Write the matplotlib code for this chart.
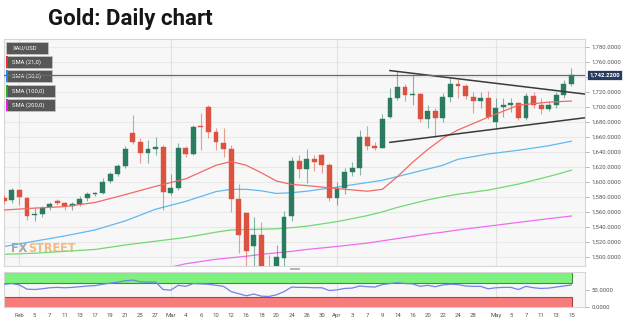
import matplotlib.pyplot as plt
from matplotlib.patches import Rectangle
import numpy as np
import pandas as pd

plt.rcParams['font.family'] = ['Roboto', 'DejaVu Sans']

W, H = 628, 327

# trading days shown (Good Friday has no bar)
dates = pd.bdate_range('2020-01-30', '2020-05-15')
dates = dates[dates != pd.Timestamp('2020-04-10')]

opens = [1579, 1576, 1589, 1579, 1555.5, 1557, 1566, 1574.5, 1571.5, 1568,
         1570, 1578, 1584, 1585, 1601, 1610.5, 1621.5, 1665, 1653, 1639,
         1643.5, 1646, 1585, 1592, 1645.5, 1636.5, 1674, 1699, 1666, 1652,
         1643, 1577, 1558, 1514, 1529.5, 1477, 1471, 1499, 1554, 1628,
         1617, 1630, 1635.5, 1622.5, 1578, 1592, 1613.5, 1618, 1659, 1648,
         1645.5, 1686.7, 1712, 1726.5, 1715.5, 1716.5, 1683.6, 1694.6, 1685.3, 1713,
         1729.7, 1727.5, 1713, 1707.5, 1712, 1680, 1700, 1702.2, 1704.5, 1684.5,
         1714.6, 1702.2, 1697, 1702.2, 1715.5, 1730]
highs = [1582, 1591.5, 1591, 1580, 1567, 1568, 1573, 1577, 1573, 1573,
         1581, 1586, 1586.5, 1605, 1613, 1624, 1647.5, 1689, 1658, 1656,
         1659, 1649, 1610.5, 1652, 1648, 1675.5, 1691, 1702, 1671, 1671,
         1649, 1597, 1560, 1553, 1547, 1503, 1516, 1561, 1633.5, 1636,
         1643, 1635.5, 1637, 1625, 1600, 1619, 1626, 1669, 1674, 1653.5,
         1690, 1724.5, 1747.5, 1729.7, 1742, 1718, 1702, 1697.8, 1718, 1737.7,
         1736.4, 1730, 1719, 1719, 1720.8, 1712, 1712, 1711, 1705.8, 1718,
         1719, 1711, 1707.5, 1719, 1735.4, 1751]
lows = [1571, 1572, 1569, 1549, 1548, 1553, 1562, 1569, 1563, 1563,
        1568, 1574, 1581, 1583.5, 1599, 1608, 1619, 1650, 1625.5, 1625,
        1636, 1562.5, 1582.5, 1589, 1633, 1635.5, 1642, 1658, 1642, 1633.5,
        1560, 1505, 1451, 1470, 1450, 1460, 1466, 1482, 1548, 1605,
        1598, 1614, 1612, 1574.5, 1569, 1583.5, 1608, 1609, 1642, 1642,
        1644.5, 1684.5, 1709, 1707.5, 1702, 1680, 1671, 1660, 1680, 1706.6,
        1711, 1709.8, 1691.2, 1697.8, 1683.6, 1670.3, 1686.7, 1693.3, 1682, 1682,
        1698.6, 1689.8, 1694.2, 1698.6, 1711, 1728]
closes = [1575, 1589, 1579.5, 1555, 1557, 1565.5, 1570.5, 1571.5, 1568, 1570.5,
          1577, 1584, 1585.5, 1600, 1610.5, 1621.5, 1643.5, 1653, 1639, 1643.5,
          1646, 1586, 1591.5, 1645.5, 1636.5, 1673.5, 1673, 1666, 1652.5, 1643.5,
          1577, 1529.5, 1508, 1529.5, 1477, 1471, 1499.7, 1553, 1628, 1617,
          1630, 1627, 1623, 1578, 1592, 1613.5, 1618, 1659, 1648, 1645.5,
          1683.5, 1712, 1726.5, 1715.5, 1717, 1683.6, 1694.6, 1685.3, 1713.2, 1729.7,
          1727.5, 1714, 1707.5, 1712, 1685.8, 1698.6, 1702, 1704.5, 1684.5, 1714.6,
          1702.2, 1697, 1702.2, 1715.5, 1730, 1742.22]

# moving averages, sampled at these bar numbers
sma_at = [0, 4, 8, 12, 16, 20, 24, 28, 30, 32, 34, 36, 38, 40, 44, 48, 50, 52,
          54, 56, 58, 60, 64, 68, 72, 75]
sma21 = [1562.5, 1565, 1567, 1572.5, 1583, 1594, 1604, 1622, 1627, 1622, 1612,
         1601, 1596.5, 1595, 1591, 1587.5, 1590, 1607, 1626, 1643, 1658, 1669,
         1686, 1702, 1706, 1707.5]
sma50 = [1514, 1521, 1528, 1536, 1548, 1563.5, 1574, 1587, 1590, 1590, 1588,
         1584.5, 1585.5, 1587.5, 1593, 1599, 1602, 1607, 1612, 1617, 1622, 1630,
         1637, 1642, 1648, 1654]
sma100 = [1503.5, 1505, 1507.5, 1510, 1516, 1521, 1526, 1533, 1536, 1536.5, 1537,
          1537.5, 1539, 1541, 1547, 1555, 1560, 1566, 1571, 1576, 1580, 1583.5,
          1589, 1597, 1607, 1615.5]
sma200 = [np.nan] * 5 + [1482, 1491, 1497, 1499, 1501, 1503.5, 1505.5, 1507.5,
                         1510, 1514, 1518.5, 1521.5, 1524.5, 1527.5, 1530.5, 1533,
                         1536, 1541, 1546, 1551, 1554.5]

rsi = [65, 67, 63, 51, 50, 52, 55, 56, 55, 56,
       58, 60, 61, 65, 68, 71, 75, 77, 72, 71,
       71.5, 50, 48, 62, 59, 67, 66, 65, 62, 59,
       44, 38, 32, 37, 31, 30, 35, 44, 57, 56,
       56, 55, 55, 47, 49, 53, 54, 60, 58, 57,
       64, 67, 69.5, 67, 66, 59, 62, 58, 63, 65,
       64, 60, 59, 59, 52, 55, 56, 56, 50, 59,
       55, 53, 54, 57, 60, 63]

# hand-drawn triangle: (bar, price) at each end
upper_trend = ([51, 77], [1748, 1716.5])
lower_trend = ([51, 77], [1652.5, 1685.5])
last_price = 1742.22

tick_days = ['2020-02-03', '2020-02-05', '2020-02-07', '2020-02-11', '2020-02-13',
             '2020-02-17', '2020-02-19', '2020-02-21', '2020-02-25', '2020-02-27',
             '2020-03-02', '2020-03-04', '2020-03-06', '2020-03-10', '2020-03-12',
             '2020-03-16', '2020-03-18', '2020-03-20', '2020-03-24', '2020-03-26',
             '2020-03-30', '2020-04-01', '2020-04-03', '2020-04-07', '2020-04-09',
             '2020-04-14', '2020-04-16', '2020-04-20', '2020-04-22', '2020-04-24',
             '2020-04-28', '2020-05-01', '2020-05-05', '2020-05-07', '2020-05-11',
             '2020-05-13', '2020-05-15']

UP, DOWN = '#2a7b5f', '#dc5240'
GRID = '#e9e9e9'
BG = '#f7f7f7'


def fig_box(x, y, w, h):
    """pixel box (top-left origin) -> figure fraction rectangle"""
    return (x / W, 1 - (y + h) / H), w / W, h / H


fig = plt.figure(figsize=(W / 100, H / 100), dpi=100)
ax = fig.add_axes([4 / W, 1 - 266 / H, 581 / W, 227 / H])
rx = fig.add_axes([4 / W, 1 - 307 / H, 581 / W, 35 / H], sharex=ax)

pos = {d: i for i, d in enumerate(dates)}
n = len(dates)
xs = np.arange(n)

for a in (ax, rx):
    a.set_facecolor(BG)
    for s in a.spines.values():
        s.set_color('#d6d6d6')
        s.set_linewidth(0.8)

# grid
for p in range(1500, 1800, 20):
    ax.axhline(p, color=GRID, lw=0.8, zorder=0)
month_starts = [pos[pd.Timestamp(d)] for d in ['2020-02-03', '2020-03-02', '2020-04-01', '2020-05-01']]
for m in month_starts:
    ax.axvline(m, color='#e2e2e2', lw=0.8, zorder=0)
    rx.axvline(m, color='#e2e2e2', lw=0.8, zorder=0)

# moving averages
ax.plot(sma_at, sma200, color='#f06cf0', lw=0.9, zorder=2)
ax.plot(sma_at, sma100, color='#72d872', lw=0.9, zorder=2)
ax.plot(sma_at, sma50, color='#62b8f0', lw=0.9, zorder=2)
ax.plot(sma_at, sma21, color='#f06a66', lw=0.9, zorder=4)

# candles
for i in range(n):
    o, hi, lo, c = opens[i], highs[i], lows[i], closes[i]
    col = UP if c >= o else DOWN
    ax.vlines(i, lo, hi, color=col, lw=0.8, alpha=0.55, zorder=3)
    body = max(abs(c - o), 0.8)
    ax.bar(i, body, bottom=min(o, c), width=0.64, color=col, edgecolor=col,
           lw=0.3, zorder=3)

# triangle lines and last price
ax.plot(*upper_trend, color='#3a3a3a', lw=1.1, zorder=5)
ax.plot(*lower_trend, color='#3a3a3a', lw=1.1, zorder=5)
ax.axhline(last_price, color='#5a6a80', lw=0.9, zorder=5)

ax.set_xlim(-0.04, 76.8)
ax.set_ylim(1488, 1790)
ax.yaxis.tick_right()
ticks = list(range(1500, 1781, 20))
ax.set_yticks(ticks)
# the 1,740 label sits under the last-price tag
ax.set_yticklabels(['' if abs(t - last_price) < 10 else f'{t:,.4f}' for t in ticks])
ax.tick_params(axis='y', length=3, width=0.6, color='#aaaaaa', labelsize=4.3,
               labelcolor='#555555', pad=1.5)
ax.tick_params(axis='x', bottom=False, labelbottom=False)

# last price tag on the scale
fig.add_artist(Rectangle(*fig_box(587, 70, 35, 10), transform=fig.transFigure,
                         facecolor='#263b5e', edgecolor='white', lw=0.5, zorder=6))
fig.text(604.5 / W, 1 - 75 / H, f'{last_price:,.4f}', color='white', fontsize=4.3,
         fontweight='bold', ha='center', va='center', zorder=7)

# series tags
tags = [('XAU/USD', None, 42.5, 42), ('SMA (21,0)', '#e8302c', 56.5, 45.5),
        ('SMA (50,0)', '#1e8ee0', 70.5, 45.5), ('SMA (100,0)', '#22b022', 85, 48.5),
        ('SMA (200,0)', '#e021e0', 99, 48.5)]
for label, stripe, ty, tw in tags:
    ax.add_patch(Rectangle(*fig_box(6, ty, tw, 11.5), transform=fig.transFigure,
                           facecolor='#575757', edgecolor='#c8c8c8', lw=0.5, zorder=4.5))
    if stripe:
        ax.add_patch(Rectangle(*fig_box(6, ty, 2, 11.5), transform=fig.transFigure,
                               facecolor=stripe, lw=0, zorder=4.6))
    ax.text(12.5 / W, 1 - (ty + 6) / H, label, transform=fig.transFigure, color='white',
            fontsize=4.2, va='center', ha='left', zorder=4.7)

# watermark, STREET is chained onto the end of FX
fx = ax.text(11.5 / W, 1 - 249 / H, 'FX', transform=fig.transFigure, fontsize=9,
             fontweight='bold', fontstretch='condensed', color='#8c8c8c', alpha=0.75,
             va='center', ha='left', family='DejaVu Sans', zorder=1)
ax.annotate('STREET', xy=(1, 0.5), xycoords=fx, xytext=(0.3, 0),
            textcoords='offset points', fontsize=9, fontweight='bold',
            fontstretch='condensed', color='#f3a458', alpha=0.75, va='center',
            ha='left', family='DejaVu Sans', zorder=1)

# scrollbar grip under the price panel
fig.add_artist(Rectangle(*fig_box(290, 267.5, 10, 2.5), transform=fig.transFigure,
                         facecolor='#b5b5b5', lw=0))

# RSI panel
rx.add_patch(Rectangle((-0.04, 70), 75.09, 30, facecolor='#7ef27e',
                       edgecolor='#3f8f3f', lw=0.8, zorder=1))
rx.add_patch(Rectangle((-0.04, 0), 75.09, 30, facecolor='#f87c7c',
                       edgecolor='#a84444', lw=0.8, zorder=1))
rx.plot(xs, rsi, color='#7282e6', lw=0.9, zorder=3)
rx.set_ylim(0, 100)
rx.yaxis.tick_right()
rx.set_yticks([0, 50])
rx.set_yticklabels(['0.0000', '50.0000'])
rx.tick_params(axis='y', length=3, width=0.6, color='#aaaaaa', labelsize=4.3,
               labelcolor='#555555', pad=1.5)

tick_pos = [pos[pd.Timestamp(d)] for d in tick_days]
tick_lab = []
for k, d in enumerate(tick_days):
    t = pd.Timestamp(d)
    first = k == 0 or pd.Timestamp(tick_days[k - 1]).month != t.month
    tick_lab.append(t.strftime('%b') if first else str(t.day))
rx.set_xticks(tick_pos)
rx.set_xticklabels(tick_lab)
rx.tick_params(axis='x', length=0, labelsize=4.3, labelcolor='#555555', pad=4)

ax.add_patch(Rectangle(*fig_box(6, 272.5, 58, 11), transform=fig.transFigure,
                       facecolor='#2e3a2e', alpha=0.85, lw=0, zorder=8))
ax.add_patch(Rectangle(*fig_box(6, 272.5, 2, 11), transform=fig.transFigure,
                       facecolor='#3ad63a', lw=0, zorder=8.1))
ax.text(12.5 / W, 1 - 278 / H, 'RSI (14,70,30,1)', transform=fig.transFigure,
        color='white', fontsize=4.2, va='center', ha='left', zorder=8.2)
for a in ax.patches[-2:]:
    a.set_clip_on(False)
for t in ax.texts[-1:]:
    t.set_clip_on(False)

fig.text(48 / W, 1 - 19 / H, 'Gold: Daily chart', fontsize=16, fontweight='bold',
         color='#161616', ha='left', va='center')

fig.savefig('out.png', dpi=100)
